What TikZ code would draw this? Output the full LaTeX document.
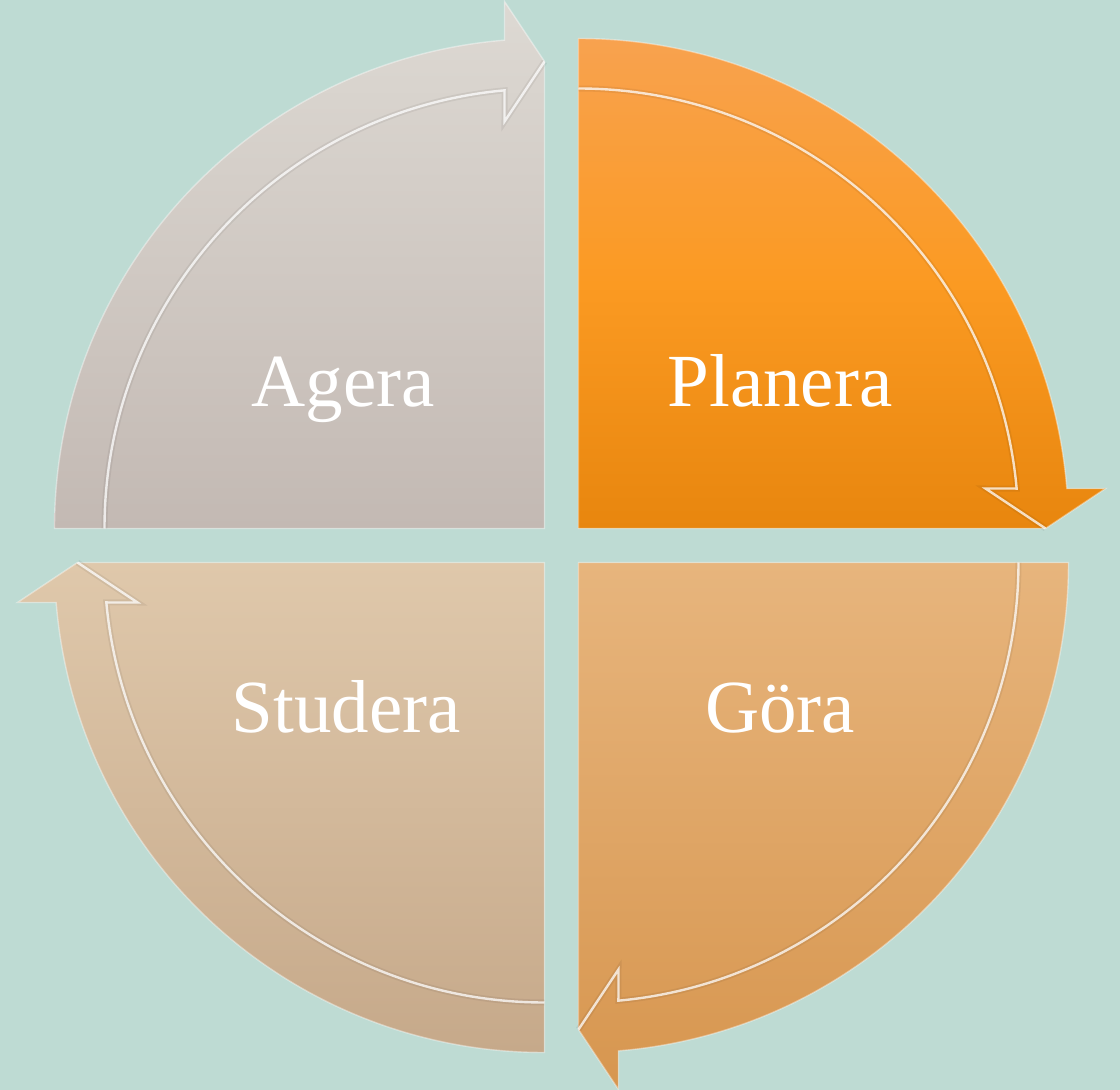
\documentclass[tikz,border=0pt]{standalone}
\usepackage{fontspec}
\setmainfont{Liberation Serif}
\definecolor{bg}{HTML}{BEDBD3}
\definecolor{tlTop}{HTML}{DDD9D3}
\definecolor{tlBot}{HTML}{C3B9B3}
\definecolor{trTop}{HTML}{F8A24F}
\definecolor{trMid}{HTML}{FB9A22}
\definecolor{trBot}{HTML}{E8860E}
\definecolor{brTop}{HTML}{E7B57D}
\definecolor{brBot}{HTML}{D7964F}
\definecolor{blTop}{HTML}{DFC8AB}
\definecolor{blBot}{HTML}{C6A98A}
\tikzset{
  qedge/.style={draw=white, draw opacity=0.4, line width=1.4pt, line join=miter},
  hlshadow/.style={draw=black, draw opacity=0.06, line width=6pt, line join=miter},
  hl/.style={draw=white, draw opacity=0.75, line width=2.4pt, line join=miter},
  lbl/.style={text=white, font=\fontsize{75}{90}\selectfont, anchor=base, inner sep=0pt}
}
\newcommand{\qoutline}{(0,0) -- (0,490) arc[start angle=90, end angle=4.68, radius=490] -- (527,40) -- (467,0) -- cycle}
\newcommand{\qinner}{(0,440) arc[start angle=90, end angle=5.21, radius=440] -- (407,40) -- (467,0)}
\newcommand{\quadrant}[3]{%
  \begin{scope}[rotate=#1, shift={(17,17)}]
    \path[top color=#2, bottom color=#3] \qoutline;
    \path[qedge] \qoutline;
    \path[hlshadow] \qinner;
    \path[hl] \qinner;
  \end{scope}}
\begin{document}
\begin{tikzpicture}[x=1pt,y=1pt]
\fill[bg] (-561.5,545.5) rectangle (558.5,-544.5);
\useasboundingbox (-561.5,545.5) rectangle (558.5,-544.5);
% top right (Planera)
\begin{scope}[rotate=0, shift={(17,17)}]
  \path[top color=trTop, bottom color=trBot, middle color=trMid] \qoutline;
  \path[qedge] \qoutline;
  \path[hlshadow] \qinner;
  \path[hl] \qinner;
\end{scope}
% top left (Agera)
\quadrant{90}{tlTop}{tlBot}
% bottom left (Studera)
\quadrant{180}{blTop}{blBot}
% bottom right (Gora)
\quadrant{270}{brTop}{brBot}
\node[lbl] (agera) at (-218.5,138.5) {Agera};
\node[lbl] (planera) at (218.5,138.5) {Planera};
\node[lbl] (studera) at (-215,-187) {Studera};
\node[lbl] (gora) at (218.5,-187) {Göra};
\end{tikzpicture}
\end{document}
